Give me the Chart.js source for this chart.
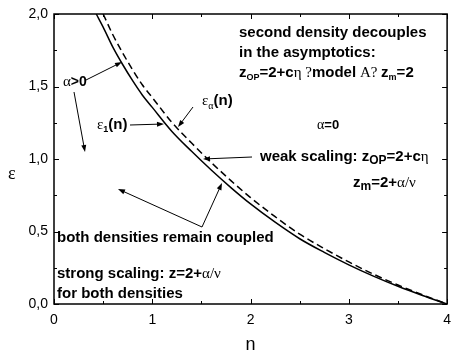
<!DOCTYPE html>
<html>
<head>
<meta charset="utf-8">
<script src="https://cdn.jsdelivr.net/npm/chart.js@4.4.0/dist/chart.umd.min.js"></script>
<style>
  html, body { margin: 0; padding: 0; background: #fff; }
  #wrap { width: 451px; height: 351px; }
</style>
</head>
<body>
<div id="wrap"><canvas id="chart" width="451" height="351"></canvas></div>
<script>
// ====== Data ======
const N_ONE = [0.43, 0.5, 0.6, 0.7, 0.8, 0.9, 1.0, 1.2, 1.4, 1.6, 1.8, 2.0, 2.25, 2.5, 2.75, 3.0, 3.25, 3.5, 3.75, 4.0];
const EPS_ONE = [2.0, 1.91, 1.77, 1.65, 1.54, 1.44, 1.356, 1.19, 1.053, 0.924, 0.803, 0.69, 0.564, 0.45, 0.356, 0.27, 0.192, 0.122, 0.059, 0.0];
const N_ALPHA = [0.5, 0.6, 0.7, 0.8, 0.9, 1.0, 1.2, 1.4, 1.6, 1.8, 2.0, 2.25, 2.5, 2.75, 3.0, 3.25, 3.5, 3.75, 4.0];
const EPS_ALPHA = [2.0, 1.855, 1.73, 1.615, 1.51, 1.424, 1.252, 1.11, 0.976, 0.851, 0.734, 0.602, 0.482, 0.382, 0.29, 0.206, 0.131, 0.063, 0.0];
const X_TICKS = [0, 1, 2, 3, 4];
const Y_TICKS = [0, 0.5, 1.0, 1.5, 2.0];
const Y_TICK_LABELS = ["0,0", "0,5", "1,0", "1,5", "2,0"];

// ====== Fonts ======
const SANS = '"Liberation Sans", Arial, Helvetica, sans-serif';
const SERIF = '"Liberation Serif", "Times New Roman", serif';
const B = px => `bold ${px}px ${SANS}`;
const R = px => `${px}px ${SERIF}`;

// ====== Annotations (text runs: [text, font, dy]) ======
const LABELS = [
  { x: 239, y: 33, runs: [["second density decouples", B(15), 0]] },
  { x: 239, y: 53, runs: [["in the asymptotics:", B(15), 0]] },
  { x: 239, y: 73, runs: [["z", B(15), 0], ["OP", B(9), 5], ["=2+c", B(15), 0], ["\u03b7 ?", R(15), 0],
      ["model", B(15), 0], [" A? ", R(15), 0], ["z", B(15), 0], ["m", B(9), 5], ["=2", B(15), 0]] },
  { x: 202, y: 101, runs: [["\u03b5", R(15), 0], ["\u03b1", R(10), 5], ["(n)", B(15), 0]] },
  { x: 63, y: 82, runs: [["\u03b1", R(15), 0], [">0", B(14), 0]] },
  { x: 97, y: 125, runs: [["\u03b5", R(15), 0], ["1", B(9), 5], ["(n)", B(15), 0]] },
  { x: 317, y: 125, runs: [["\u03b1", R(14), 0], ["=0", B(13), 0]] },
  { x: 260, y: 157, runs: [["weak scaling: z", B(15), 0], ["OP", B(12), 4], ["=2+c", B(15), 0], ["\u03b7", R(15), 0]] },
  { x: 353, y: 183, runs: [["z", B(15), 0], ["m", B(12), 4], ["=2+", B(15), 0], ["\u03b1/\u03bd", R(15), 0]] },
  { x: 57, y: 238, runs: [["both densities remain coupled", B(15), 0]] },
  { x: 57, y: 274, runs: [["strong scaling: z=2+", B(15), 0], ["\u03b1/\u03bd", R(15), 0]] },
  { x: 57, y: 294, runs: [["for both densities", B(15), 0]] },
  { x: 8, y: 174, runs: [["\u03b5", R(18), 0]] }
];
const ARROWS = [
  [86, 80, 122, 62],
  [74, 92, 85, 152],
  [193, 107, 178, 127],
  [130, 125, 164, 124],
  [252, 157, 203, 159],
  [202, 227, 118, 189],
  [202, 227, 222, 183]
];

// ====== Drawing helpers ======
function drawRuns(ctx, x, y, runs) {
  ctx.textBaseline = 'middle';
  ctx.textAlign = 'left';
  runs.forEach(([t, f, dy]) => {
    ctx.font = f;
    ctx.fillText(t, x, y + dy);
    x += ctx.measureText(t).width;
  });
}

function drawArrow(ctx, x1, y1, x2, y2) {
  const ang = Math.atan2(y2 - y1, x2 - x1);
  const len = 7, half = 2.5;
  ctx.beginPath();
  ctx.moveTo(x1, y1);
  ctx.lineTo(x2 - Math.cos(ang) * len * 0.8, y2 - Math.sin(ang) * len * 0.8);
  ctx.stroke();
  ctx.beginPath();
  ctx.moveTo(x2, y2);
  ctx.lineTo(x2 - len * Math.cos(ang) + half * Math.sin(ang), y2 - len * Math.sin(ang) - half * Math.cos(ang));
  ctx.lineTo(x2 - len * Math.cos(ang) - half * Math.sin(ang), y2 - len * Math.sin(ang) + half * Math.cos(ang));
  ctx.closePath();
  ctx.fill();
}

const framePlugin = {
  id: 'frame',
  afterDatasetsDraw(chart) {
    const { ctx, chartArea: a, scales: { x, y } } = chart;
    ctx.save();
    ctx.strokeStyle = '#000';
    ctx.lineWidth = 1.5;
    ctx.strokeRect(a.left, a.top, a.right - a.left, a.bottom - a.top);
    ctx.lineWidth = 1;
    ctx.beginPath();
    for (let v = 0; v <= 4.001; v += 0.5) {
      const px = Math.round(x.getPixelForValue(v)) + 0.5;
      const l = Number.isInteger(v) ? 5 : 3;
      ctx.moveTo(px, a.bottom); ctx.lineTo(px, a.bottom - l);
      ctx.moveTo(px, a.top); ctx.lineTo(px, a.top + l);
    }
    for (let v = 0; v <= 2.001; v += 0.25) {
      const py = Math.round(y.getPixelForValue(v)) + 0.5;
      const l = (Math.round(v * 100) % 50 === 0) ? 5 : 3;
      ctx.moveTo(a.left, py); ctx.lineTo(a.left + l, py);
      ctx.moveTo(a.right, py); ctx.lineTo(a.right - l, py);
    }
    ctx.stroke();
    ctx.restore();
  },
  afterDraw(chart) {
    const { ctx } = chart;
    ctx.save();
    ctx.fillStyle = '#000';
    ctx.strokeStyle = '#000';
    ctx.lineWidth = 1;
    LABELS.forEach(l => drawRuns(ctx, l.x, l.y, l.runs));
    ARROWS.forEach(a => drawArrow(ctx, ...a));
    ctx.restore();
  }
};

// ====== Chart ======
new Chart(document.getElementById('chart').getContext('2d'), {
  type: 'line',
  data: {
    datasets: [
      {
        label: 'eps_alpha',
        data: N_ALPHA.map((n, i) => ({ x: n, y: EPS_ALPHA[i] })),
        borderColor: '#000',
        borderWidth: 1.5,
        borderDash: [7, 4],
        pointRadius: 0,
        cubicInterpolationMode: 'monotone',
        fill: false
      },
      {
        label: 'eps_1',
        data: N_ONE.map((n, i) => ({ x: n, y: EPS_ONE[i] })),
        borderColor: '#000',
        borderWidth: 1.5,
        pointRadius: 0,
        cubicInterpolationMode: 'monotone',
        fill: false
      }
    ]
  },
  options: {
    responsive: false,
    animation: false,
    devicePixelRatio: 1,
    layout: { padding: { top: 14, right: 0, left: 0, bottom: 0 } },
    plugins: { legend: { display: false }, tooltip: { enabled: false } },
    scales: {
      x: {
        type: 'linear', min: 0, max: 4,
        afterFit: s => { s.height = 47; },
        afterBuildTicks: s => { s.ticks = X_TICKS.map(v => ({ value: v })); },
        ticks: { color: '#000', padding: 0, font: { family: SANS, size: 14 }, maxRotation: 0 },
        grid: { display: false, drawTicks: true, tickLength: 8 },
        border: { display: false },
        title: { display: true, text: 'n', color: '#000', font: { family: SANS, size: 18, lineHeight: 0.7 }, padding: 0 }
      },
      y: {
        type: 'linear', min: 0, max: 2,
        afterFit: s => { s.width = 54; },
        afterBuildTicks: s => { s.ticks = Y_TICKS.map(v => ({ value: v })); },
        ticks: { color: '#000', padding: 0, font: { family: SANS, size: 14 },
          callback: v => Y_TICK_LABELS[Y_TICKS.indexOf(v)] },
        grid: { display: false, drawTicks: true, tickLength: 6 },
        border: { display: false }
      }
    }
  },
  plugins: [framePlugin]
});
</script>
</body>
</html>
